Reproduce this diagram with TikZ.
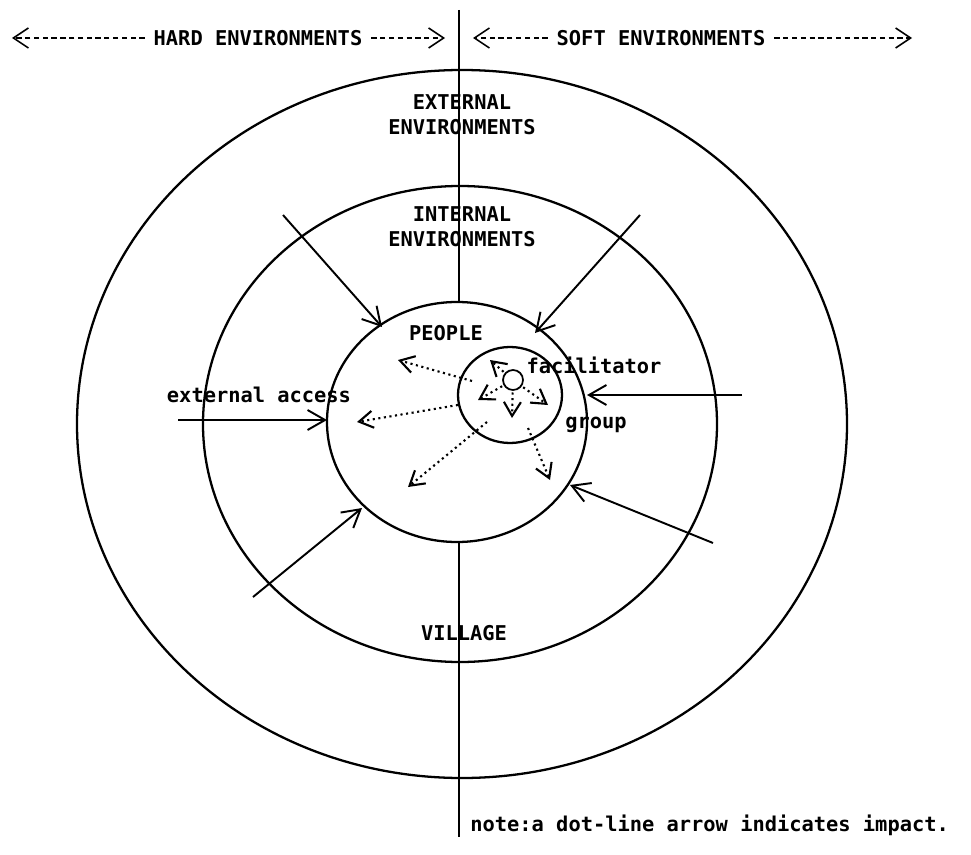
\documentclass[tikz,border=0pt]{standalone}
\usepackage{fontspec}
\setmainfont{DejaVu Sans Mono}
\usetikzlibrary{positioning,arrows.meta}

\begin{document}
\begin{tikzpicture}[x=0.02cm,y=-0.02cm]
            \tikzset{lbl/.style={font=\bfseries\fontsize{11.6}{14}\selectfont, inner sep=0pt, align=center}}
            \tikzset{ring/.style={line width=1.3pt}}
            \tikzset{hit/.style={line width=1.1pt,-{Straight Barb[length=3.5mm,width=4mm]}}}
            \tikzset{impact/.style={line width=1.2pt,dotted,-{Straight Barb[length=2.8mm,width=3.4mm]}}}
            \tikzset{side/.style={line width=0.9pt,densely dashed,-{Straight Barb[length=3mm,width=4mm]}}}
            \useasboundingbox (0,0) rectangle (971,855);

            % Ringe
            \coordinate (outer) at (462,424);
            \coordinate (inner) at (460,424);
            \coordinate (people) at (457,422);
            \coordinate (group) at (510,395);
            \coordinate (fac) at (513,380);
            \draw[ring] (outer) ellipse [x radius=385, y radius=354];
            \draw[ring] (inner) ellipse [x radius=257, y radius=238];
            \draw[ring] (people) ellipse [x radius=130, y radius=120];
            \draw[ring] (group) ellipse [x radius=52, y radius=48];
            \draw[line width=1pt] (fac) circle [radius=10];

            % Trennlinie
            \coordinate (top) at (459,10);
            \coordinate (pn) at (459,302);
            \coordinate (ps) at (459,542);
            \coordinate (bot) at (459,837);
            \draw[line width=1.7pt] (top) -- (pn);
            \draw[line width=1.7pt] (ps) -- (bot);

            % Kopfzeile
            \node[lbl] (hard) at (258,38) {HARD ENVIRONMENTS};
            \node[lbl] (soft) at (661,38) {SOFT ENVIRONMENTS};
            \coordinate (hl) at (12,38);
            \coordinate (hr) at (445,38);
            \coordinate (sl) at (473,38);
            \coordinate (sr) at (912,38);
            \draw[side, shorten <=5pt] (hard.west) -- (hl);
            \draw[side, shorten <=5pt] (hard.east) -- (hr);
            \draw[side, shorten <=5pt] (soft.west) -- (sl);
            \draw[side, shorten <=5pt] (soft.east) -- (sr);

            \node[lbl] (ext) at (462,115) {EXTERNAL\\ENVIRONMENTS};
            \node[lbl] (int) at (462,227) {INTERNAL\\ENVIRONMENTS};
            \node[lbl] (pp) at (446,333) {PEOPLE};
            \node[lbl] (vil) at (464,633) {VILLAGE};
            \node[lbl] (facl) at (594,365) {facilitator};
            \node[lbl] (grp) at (596,425) {group};
            \node[lbl] (acc) at (259,395) {external access};
            \node[lbl, anchor=west] (note) at (470,825) {note:a dot-line arrow indicates impact.};

            % Einfluss von aussen
            \coordinate (a1) at (283,215);  \coordinate (b1) at (382,327);
            \coordinate (a2) at (640,215);  \coordinate (b2) at (535,333);
            \coordinate (a3) at (178,420);  \coordinate (b3) at (327,420);
            \coordinate (a4) at (742,395);  \coordinate (b4) at (587,395);
            \coordinate (a5) at (253,597);  \coordinate (b5) at (362,508);
            \coordinate (a6) at (713,543);  \coordinate (b6) at (570,485);
            \foreach \i in {1,...,6}
                \draw[hit] (a\i) -- (b\i);

            % Impact (Punkte)
            \coordinate (g1) at (472,381);  \coordinate (p1) at (398,360);
            \coordinate (g2) at (458,405);  \coordinate (p2) at (357,422);
            \coordinate (g3) at (487,422);  \coordinate (p3) at (408,487);
            \coordinate (g4) at (528,428);  \coordinate (p4) at (550,480);
            \foreach \i in {1,...,4}
                \draw[impact] (g\i) -- (p\i);
            \coordinate (f1) at (490,360);
            \coordinate (f2) at (478,400);
            \coordinate (f3) at (512,418);
            \coordinate (f4) at (548,405);
            \foreach \i in {1,...,4}
                \draw[impact, shorten <=0.25cm] (fac) -- (f\i);
\end{tikzpicture}
\end{document}
